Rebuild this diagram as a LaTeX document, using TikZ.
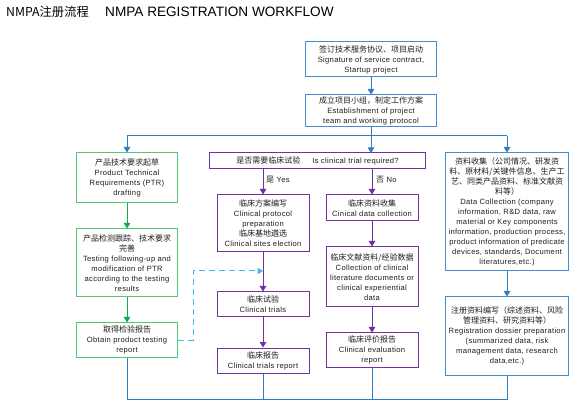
\documentclass[tikz,border=0pt]{standalone}
\usepackage{fontspec}
\setmainfont{Liberation Sans}[LetterSpace=4]
\newfontfamily\titlefont{Liberation Sans}
\newfontfamily\cjk{Noto Sans CJK SC}
\usetikzlibrary{arrows.meta}
\newcommand\zh[1]{{\cjk\fontsize{8}{10}\selectfont #1}}
\definecolor{lblue}{RGB}{46,125,200}
\definecolor{bblue}{RGB}{70,140,210}
\definecolor{lgreen}{RGB}{20,170,80}
\definecolor{bgreen}{RGB}{80,200,120}
\definecolor{lpurple}{RGB}{112,48,160}
\definecolor{dcyan}{RGB}{60,190,240}
\definecolor{txt}{RGB}{30,30,30}
\tikzset{
  box/.style={draw, line width=1pt, fill=white, inner sep=0pt, align=center,
    text=txt, font=\fontsize{7.6}{10}\selectfont},
  bluebox/.style={box, draw=bblue},
  greenbox/.style={box, draw=bgreen},
  purplebox/.style={box, draw=lpurple},
  tip/.style={-{Triangle[width=6.5pt,length=5.5pt]}},
  bline/.style={draw=lblue, line width=1pt},
  gline/.style={draw=lgreen, line width=1pt},
  pline/.style={draw=lpurple, line width=1pt},
  lbl/.style={inner sep=0pt, text=txt, font=\fontsize{7.6}{10}\selectfont}
}
\begin{document}
\begin{tikzpicture}[x=1pt,y=-1pt]
\useasboundingbox (0,0) rectangle (581,403);

% title
\node[anchor=west, inner sep=0pt, text=black] (t1) at (6,12) {{\cjk\fontsize{12.3}{14}\selectfont NMPA注册流程}};
\node[anchor=west, inner sep=0pt, text=black] (t2) at (105,12) {\titlefont\fontsize{13.6}{14}\selectfont NMPA REGISTRATION WORKFLOW};

% top boxes
\node[bluebox, minimum width=131pt, minimum height=35pt] (sig) at (371,59.5)
  {\zh{签订技术服务协议、项目启动}\\Signature of service contract,\\Startup project};
\node[bluebox, minimum width=131pt, minimum height=32pt] (est) at (371,111)
  {\zh{成立项目小组，制定工作方案}\\Establishment of project\\team and working protocol};

% green column
\node[greenbox, minimum width=101pt, minimum height=50pt] (ptr) at (127,178)
  {\zh{产品技术要求起草}\\Product Technical\\Requirements (PTR)\\drafting};
\node[greenbox, minimum width=101pt, minimum height=68pt] (test) at (127,263)
  {\zh{产品检测跟踪、技术要求}\\\zh{完善}\\Testing following-up and\\modification of PTR\\according to the testing\\results};
\node[greenbox, minimum width=101pt, minimum height=34pt] (obtain) at (127,340)
  {\zh{取得检验报告}\\Obtain product testing\\report};

% purple
\node[purplebox, minimum width=216pt, minimum height=16pt] (q) at (317.5,161)
  {\zh{是否需要临床试验}\hspace{12pt}Is clinical trial required?};
\node[purplebox, minimum width=92pt, minimum height=57pt] (prot) at (263,223.5)
  {\zh{临床方案编写}\\Clinical protocol\\preparation\\\zh{临床基地遴选}\\Clinical sites election};
\node[purplebox, minimum width=92pt, minimum height=25pt] (trial) at (263,304.5)
  {\zh{临床试验}\\Clinical trials};
\node[purplebox, minimum width=92pt, minimum height=25pt] (rep) at (263,360.5)
  {\zh{临床报告}\\Clinical trials report};
\node[purplebox, minimum width=92pt, minimum height=26pt] (cdc) at (372,208)
  {\zh{临床资料收集}\\Cinical data collection};
\node[purplebox, minimum width=92pt, minimum height=60pt] (lit) at (372,277)
  {\zh{临床文献资料/经验数据}\\Collection of clinical\\literature documents or\\clinical experiential\\data};
\node[purplebox, minimum width=92pt, minimum height=34pt] (eval) at (372,350)
  {\zh{临床评价报告}\\Clinical evaluation\\report};

% right blue column
\node[bluebox, minimum width=123pt, minimum height=118pt] (dc) at (507,212)
  {\zh{资料收集（公司情况、研发资}\\\zh{料、原材料/关键件信息、生产工}\\\zh{艺、同类产品资料、标准文献资}\\\zh{料等）}\\Data Collection (company\\information, R\&D data, raw\\material or Key components\\information, production process,\\product information of predicate\\devices, standards, Document\\literatures,etc.)};
\node[bluebox, minimum width=123pt, minimum height=78pt] (dos) at (507,336)
  {\zh{注册资料编写（综述资料、风险}\\\zh{管理资料、研究资料等）}\\Registration dossier preparation\\(summarized data, risk\\management data, research\\data,etc.)};

% labels
\node[lbl, anchor=west] (yes) at (266,180) {\zh{是} Yes};
\node[lbl, anchor=west] (no) at (376,180) {\zh{否} No};

% connectors top
\coordinate (split) at (371,136);
\coordinate (sl) at (127,136);
\coordinate (sr) at (507,136);
\draw[bline, tip] (sig) -- (est);
\draw[bline] (est.south) -- (split);
\draw[bline] (sl) -- (sr);
\draw[bline, tip] (sl) -- (ptr.north);
\draw[bline, tip] (split) -- (371,153);
\draw[bline, tip] (sr) -- (dc.north);

% green
\draw[gline, tip] (ptr) -- (test);
\draw[gline, tip] (test) -- (obtain);

% purple
\draw[pline, tip] (q.south -| prot.north) -- (prot.north);
\draw[pline, tip] (q.south -| cdc.north) -- (cdc.north);
\draw[pline, tip] (prot) -- (trial);
\draw[pline, tip] (trial) -- (rep);
\draw[pline, tip] (cdc) -- (lit);
\draw[pline, tip] (lit) -- (eval);

% right
\draw[bline, tip] (dc) -- (dos);

% dashed
\coordinate (dend) at (263,271);
\draw[draw=dcyan, line width=1pt, dash pattern=on 6pt off 4pt, tip] (obtain.east) -- (193,340) -- (193,271) -- (dend);

% bottom
\coordinate (b1) at (127,399);
\coordinate (b2) at (507,399);
\draw[bline] (obtain.south) -- (b1) -- (b2) -- (dos.south);
\draw[bline] (rep.south) -- (rep.south |- b1);
\draw[bline] (eval.south) -- (eval.south |- b1);
\end{tikzpicture}
\end{document}
